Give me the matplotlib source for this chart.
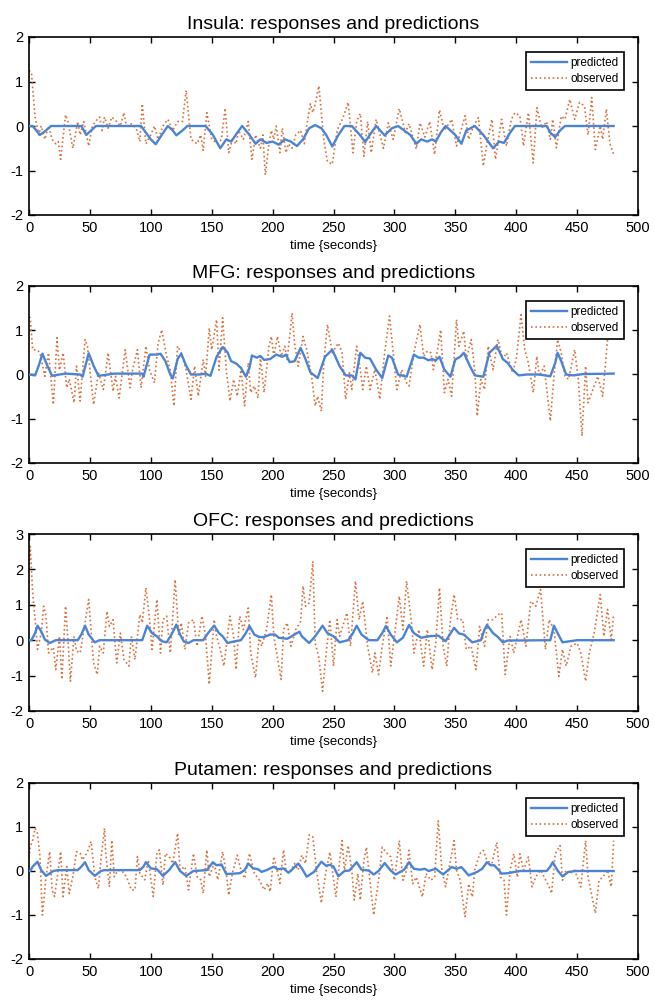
import numpy as np
import matplotlib.pyplot as plt

plt.rcParams['font.family'] = ['Liberation Sans', 'DejaVu Sans']
plt.rcParams['axes.unicode_minus'] = False

# ---- Insula ----
ins_pred_t = [0, 3, 9, 14, 18, 43, 47, 51, 55, 92, 96, 100, 104, 109, 114, 118, 121, 126, 130, 145,
              151, 157, 162, 166, 171, 175, 181, 186, 190, 195, 200, 205, 210, 215, 220, 225, 230,
              235, 240, 244, 249, 254, 259, 265, 272, 276, 281, 285, 292, 298, 303, 308, 313, 318,
              322, 327, 331, 334, 338, 342, 346, 350, 355, 359, 366, 373, 381, 386, 390, 395, 399,
              425, 428, 432, 436, 440, 480]
ins_pred_y = [0, 0, -0.2, -0.1, 0.0, 0.0, -0.2, -0.1, 0.0, 0.0, -0.15, -0.3, -0.41, -0.2, 0.0, -0.1,
              -0.21, -0.1, 0.0, 0.0, -0.2, -0.5, -0.3, -0.35, -0.15, 0.0, -0.2, -0.4, -0.3, -0.38,
              -0.35, -0.42, -0.3, -0.35, -0.45, -0.3, -0.05, 0.02, -0.05, -0.2, -0.46, -0.2, 0.0,
              0.0, -0.21, -0.36, -0.15, 0.0, -0.21, -0.05, 0.0, -0.1, -0.2, -0.4, -0.3, -0.35,
              -0.3, -0.35, -0.15, 0.0, -0.1, -0.2, -0.4, -0.1, 0.0, -0.2, -0.5, -0.35, -0.38,
              -0.15, 0.0, 0.0, -0.15, -0.25, -0.1, 0.0, 0.0]
ins_obs_t = [0, 2, 5, 8, 10, 13, 16, 19, 22, 24, 26, 30, 32, 36, 40, 42, 45, 49, 52, 56, 58, 60, 62,
             65, 68, 72, 75, 78, 80, 84, 88, 91, 93, 96, 100, 103, 106, 110, 114, 118, 122, 126,
             129, 133, 138, 141, 143, 146, 150, 155, 158, 161, 164, 167, 170, 172, 176, 180, 183,
             186, 190, 192, 194, 197, 199, 201, 203, 206, 208, 211, 213, 216, 219, 223, 226, 228,
             231, 233, 235, 238, 242, 245, 249, 253, 258, 262, 266, 269, 272, 275, 278, 281, 285,
             291, 295, 299, 304, 309, 312, 318, 321, 325, 329, 333, 337, 341, 347, 351, 358, 361,
             365, 369, 373, 376, 380, 383, 388, 392, 396, 399, 403, 406, 410, 414, 417, 421, 425,
             428, 430, 433, 437, 440, 444, 448, 452, 456, 459, 462, 465, 469, 471, 474, 477, 480]
ins_obs_y = [1.25, 1.2, 0.2, -0.2, 0.0, -0.3, 0.0, -0.3, -0.4, -0.35, -0.75, 0.25, 0.1, -0.5, 0.1,
             -0.2, 0.1, -0.45, 0.0, 0.15, 0.2, -0.1, 0.2, -0.05, 0.2, 0.1, 0.0, 0.3, 0.0, 0.05,
             -0.05, -0.35, 0.5, -0.4, -0.2, 0.0, -0.3, 0.0, 0.15, -0.1, 0.1, 0.1, 0.8, -0.3, -0.4,
             -0.2, -0.55, 0.3, -0.3, -0.4, -0.3, 0.4, -0.6, -0.3, -0.4, -0.1, -0.3, 0.1, -0.75,
             -0.2, -0.5, -0.2, -1.1, -0.4, -0.1, -0.3, 0.0, -0.6, -0.05, -0.6, -0.4, -0.5, -0.2,
             -0.1, -0.4, 0.0, 0.5, 0.3, 0.5, 0.9, -0.3, -0.8, -0.86, -0.1, 0.2, 0.53, -0.6, 0.1,
             0.28, -0.68, 0.1, -0.6, 0.15, -0.5, 0.07, -0.3, 0.39, -0.15, 0.05, -0.52, 0.07,
             -0.25, 0.1, -0.64, 0.36, -0.1, 0.15, -0.45, 0.23, -0.3, 0.0, 0.19, -0.9, -0.4, 0.15,
             -0.75, 0.15, -0.45, 0.15, 0.3, 0.23, -0.45, 0.3, -0.83, 0.41, -0.05, 0.1, -0.3, 0.15,
             -0.49, 0.22, 0.15, 0.6, 0.15, 0.53, 0.45, -0.2, 0.64, -0.53, 0.0, -0.3, 0.38, -0.4,
             -0.64]

# ---- MFG ----
mfg_pred_t = [0, 5, 8, 11, 15, 19, 25, 30, 42, 44, 49, 53, 57, 65, 70, 93, 94, 99, 105, 108, 112,
              116, 118, 122, 125, 129, 133, 140, 145, 149, 154, 159, 163, 166, 170, 174, 178, 181,
              183, 187, 190, 193, 198, 203, 208, 211, 214, 218, 223, 227, 231, 237, 243, 249, 255,
              260, 265, 268, 272, 276, 280, 285, 290, 295, 298, 303, 310, 316, 320, 324, 328, 331,
              334, 337, 341, 346, 350, 354, 357, 362, 366, 373, 378, 384, 389, 393, 397, 402, 409,
              419, 428, 432, 434, 437, 441, 447, 455, 480]
mfg_pred_y = [0, -0.02, 0.2, 0.47, 0.2, -0.03, 0.0, 0.02, 0.0, -0.05, 0.48, 0.2, -0.03, 0.0, 0.02,
              0.02, -0.05, 0.45, 0.45, 0.47, 0.3, 0.0, -0.09, 0.35, 0.47, 0.2, 0.0, 0.0, 0.02,
              -0.03, 0.4, 0.62, 0.5, 0.3, 0.25, 0.15, -0.05, 0.15, 0.43, 0.38, 0.42, 0.33, 0.35,
              0.45, 0.4, 0.45, 0.28, 0.3, 0.6, 0.35, 0.05, -0.08, 0.4, 0.56, 0.19, -0.02, -0.02,
              -0.11, 0.49, 0.38, 0.36, 0.11, -0.08, 0.43, 0.38, 0.0, -0.05, 0.45, 0.38, 0.38,
              0.32, 0.35, 0.32, 0.4, 0.11, -0.05, 0.34, 0.4, 0.49, 0.19, -0.02, -0.05, 0.49,
              0.65, 0.35, 0.26, 0.11, -0.02, 0.0, 0.0, -0.04, 0.26, 0.49, 0.3, 0.0, -0.02, 0.01,
              0.02]
mfg_obs_t = [0, 1, 3, 7, 9, 13, 16, 20, 23, 25, 28, 31, 33, 37, 39, 42, 44, 46, 48, 53, 57, 61, 65,
             69, 71, 74, 79, 83, 85, 89, 92, 96, 99, 103, 106, 109, 113, 116, 119, 122, 125, 129,
             133, 136, 139, 143, 145, 148, 150, 154, 156, 159, 162, 165, 168, 171, 174, 177, 180,
             182, 185, 188, 190, 193, 197, 199, 201, 204, 207, 210, 212, 216, 218, 221, 225, 228,
             232, 235, 237, 240, 242, 245, 249, 254, 257, 260, 263, 265, 269, 272, 274, 277, 280,
             284, 288, 292, 296, 299, 302, 306, 310, 312, 316, 321, 324, 327, 330, 332, 335, 338,
             341, 344, 347, 351, 353, 357, 359, 363, 366, 368, 371, 374, 377, 381, 385, 389, 392,
             397, 400, 404, 407, 410, 414, 417, 419, 423, 428, 431, 434, 437, 440, 443, 448, 451,
             454, 457, 459, 463, 467, 471, 475, 479]
mfg_obs_y = [1.3, 1.28, 0.56, 0.55, 0.49, -0.04, 0.49, -0.68, 0.83, 0.1, 0.49, -0.3, -0.1, -0.64,
             0.19, -0.6, 0.1, 0.79, 0.64, -0.68, 0.04, -0.34, 0.49, -0.38, -0.04, -0.53, 0.56,
             -0.3, 0.1, 0.56, -0.3, 0.64, 0.1, -0.19, 0.71, 1.01, 0.41, 0.1, -0.71, 0.64, 0.49,
             0.1, -0.56, 0.19, -0.49, 0.34, -0.04, 1.05, 0.56, 1.24, 0.1, 1.28, 0.1, -0.6, -0.11,
             -0.49, 0.1, -0.71, 0.26, -0.41, -0.26, -0.53, 0.41, -0.41, 0.64, 0.86, 0.41, 0.86,
             0.41, 0.64, 0.34, 1.39, 0.71, 0.19, 0.86, 0.56, -0.04, -0.71, -0.49, -0.83, 0.26,
             1.13, 0.49, 0.71, 0.49, -0.56, 0.04, -0.34, 0.64, 0.11, -0.34, 0.19, -0.34, 0.11,
             -0.56, 0.49, 1.32, 0.49, -0.34, 0.11, -0.19, -0.26, 0.49, 1.13, 0.41, 0.53, 0.49,
             0.11, 0.49, 1.01, -0.41, -0.11, -0.49, 1.24, 0.64, 0.98, 0.34, 0.79, 0.11, -0.94,
             -0.11, -0.34, 0.64, 0.11, 0.79, 0.34, 0.49, 0.04, 0.34, 1.35, 0.56, 0.26, -0.41,
             0.41, -0.04, 0.19, -1.05, -0.04, 0.79, 0.49, -0.04, -0.11, 0.56, -0.11, -1.39, 0.19,
             -0.64, -0.34, -0.04, -0.49, 0.79, 0.9]

# ---- OFC ----
ofc_pred_t = [0, 2, 5, 7, 10, 13, 17, 22, 40, 43, 46, 49, 54, 58, 93, 95, 97, 101, 105, 109, 113,
              117, 121, 124, 127, 131, 135, 143, 147, 152, 156, 159, 163, 169, 174, 178, 181, 185,
              189, 193, 198, 202, 205, 212, 218, 222, 224, 230, 235, 241, 245, 250, 255, 262, 266,
              269, 273, 279, 286, 290, 293, 297, 302, 307, 312, 316, 322, 328, 336, 342, 349, 353,
              357, 364, 371, 374, 376, 381, 385, 389, 393, 428, 431, 434, 438, 450, 480]
ofc_pred_y = [0, 0, 0.2, 0.41, 0.25, 0.02, -0.08, 0.0, 0.0, 0.16, 0.41, 0.16, -0.06, 0.0, 0.0, 0.2,
              0.41, 0.2, 0.11, -0.03, -0.06, 0.16, 0.44, 0.16, -0.03, -0.08, 0.0, 0.0, 0.2, 0.41,
              0.2, 0.11, -0.08, -0.03, 0.0, 0.2, 0.4, 0.16, 0.09, 0.09, 0.16, 0.16, 0.07, 0.04,
              0.16, 0.24, 0.11, -0.08, 0.11, 0.41, 0.2, 0.11, -0.06, 0.0, 0.2, 0.41, 0.16, 0.0,
              0.0, 0.2, 0.4, 0.16, -0.06, 0.07, 0.43, 0.2, 0.07, 0.11, 0.13, -0.03, 0.35, 0.19,
              0.16, -0.06, 0.0, 0.3, 0.43, 0.2, 0.09, -0.06, -0.01, 0.0, 0.41, 0.2, -0.06, 0.0, 0.0]
ofc_obs_t = [0, 1, 3, 5, 7, 10, 12, 14, 16, 20, 22, 25, 27, 30, 32, 34, 37, 39, 42, 46, 49, 53, 56,
             58, 61, 64, 66, 69, 72, 75, 78, 82, 84, 87, 91, 93, 96, 99, 101, 105, 108, 110, 113,
             116, 120, 123, 125, 128, 131, 135, 138, 142, 145, 148, 152, 154, 157, 160, 165, 168,
             170, 173, 176, 180, 182, 186, 189, 191, 195, 199, 201, 207, 209, 212, 215, 219, 223,
             225, 227, 230, 233, 235, 238, 241, 244, 247, 250, 253, 255, 261, 264, 268, 271, 274,
             278, 282, 284, 287, 290, 294, 297, 299, 304, 307, 310, 314, 316, 320, 324, 327, 331,
             334, 337, 340, 343, 346, 349, 352, 356, 359, 363, 367, 370, 374, 377, 381, 385, 388,
             391, 395, 398, 401, 404, 408, 412, 416, 420, 424, 427, 431, 435, 438, 441, 445, 450,
             453, 457, 460, 464, 469, 472, 475, 478, 480]
ofc_obs_y = [2.0, 2.65, 1.34, 0.58, -0.26, 0.2, 0.96, 0.68, -0.36, -0.2, -0.83, 0.11, -1.11, 0.96,
             0.02, -1.16, 0.11, -0.31, -0.36, 0.49, 1.15, -0.64, -0.97, -0.17, -0.36, 0.82, 0.39,
             0.58, -0.64, 0.2, -0.55, -0.73, 0.11, -0.55, 0.72, 0.49, 1.48, 0.58, -0.26, 1.15,
             -0.36, 0.58, 0.68, -0.36, 1.71, 0.11, 0.49, -0.26, 0.49, 0.58, -0.17, 0.68, 0.11,
             -1.25, 0.58, 0.11, -0.26, -0.73, 0.68, 0.11, -0.83, 0.68, 0.3, 0.91, -0.36, -1.06,
             0.11, -0.17, 0.3, 1.29, 0.11, -1.11, 0.3, 0.49, -0.17, 0.3, 0.53, 1.53, 0.96, 1.05,
             2.23, -0.08, -0.5, -1.44, -0.36, 0.58, -0.73, 0.58, 0.11, 0.77, -0.17, 1.67, 0.58,
             1.1, -0.17, -0.92, -0.36, -0.97, -0.17, 0.68, -0.73, -0.17, 1.24, 0.3, 1.67, 0.49,
             -0.36, 0.3, -0.73, 0.3, -0.83, -0.08, 1.48, -0.17, -0.73, 0.58, 1.29, 0.58, 0.58,
             -0.26, -0.17, -0.83, 0.39, -0.17, 0.58, 0.58, 0.72, 0.77, -0.97, 0.11, -0.36, 0.11,
             0.58, -0.17, 1.1, 0.96, 1.43, -0.26, 0.58, 0.3, -1.02, -0.26, -0.73, -0.17, -0.08,
             -0.36, -1.16, -0.36, 0.2, 1.29, 0.11, 0.87, 0.02, 0.72]

# ---- Putamen ----
put_pred_t = [0, 1, 3, 7, 10, 14, 20, 24, 40, 43, 46, 49, 54, 59, 62, 91, 94, 96, 100, 105, 110, 115,
              120, 124, 129, 135, 146, 151, 154, 158, 162, 168, 173, 177, 180, 184, 188, 191, 195,
              201, 204, 209, 213, 217, 221, 224, 228, 234, 240, 244, 247, 250, 254, 259, 263, 269,
              273, 279, 283, 287, 292, 297, 301, 308, 312, 316, 321, 325, 328, 334, 340, 347, 351,
              355, 361, 368, 372, 376, 379, 382, 386, 388, 393, 399, 403, 425, 428, 430, 434, 438,
              443, 449, 480]
put_pred_y = [0, 0, 0.1, 0.21, 0.02, -0.11, 0.0, 0.02, 0.02, 0.1, 0.2, 0.02, -0.11, 0.0, 0.02, 0.02,
              0.1, 0.2, 0.06, 0.04, -0.11, 0.02, 0.2, 0.0, -0.11, 0.0, 0.02, 0.2, 0.13, 0.15,
              -0.07, -0.06, -0.05, 0.02, 0.17, 0.06, 0.04, -0.02, 0.02, 0.1, 0.04, 0.06, -0.04,
              0.06, 0.17, 0.06, -0.13, -0.02, 0.21, 0.12, 0.14, 0.1, -0.12, 0.0, 0.01, 0.2, 0.03,
              0.01, -0.08, 0.0, 0.18, 0.01, -0.08, 0.03, 0.2, 0.05, 0.03, 0.05, 0.0, 0.05, -0.08,
              0.09, 0.05, 0.09, -0.1, -0.02, 0.05, 0.2, 0.13, 0.13, 0.01, -0.06, -0.05, -0.02,
              0.0, 0.0, 0.1, 0.2, 0.01, -0.12, -0.02, 0.0, 0.0]
put_obs_t = [0, 1, 3, 5, 7, 9, 11, 14, 17, 19, 21, 24, 26, 28, 31, 33, 36, 39, 42, 44, 48, 51, 54,
             57, 59, 62, 63, 66, 68, 70, 73, 77, 80, 84, 87, 89, 91, 95, 98, 102, 105, 107, 110, 112,
             115, 118, 122, 124, 128, 131, 135, 138, 141, 143, 146, 148, 152, 155, 159, 162, 164,
             167, 171, 174, 177, 181, 185, 189, 193, 196, 198, 201, 203, 206, 209, 211, 214, 218,
             221, 224, 227, 230, 233, 236, 240, 244, 247, 249, 252, 254, 257, 259, 262, 265, 267,
             270, 272, 275, 277, 281, 283, 287, 290, 293, 297, 300, 304, 307, 310, 312, 315, 318,
             323, 326, 330, 333, 336, 339, 342, 344, 349, 351, 354, 358, 361, 364, 366, 370, 373,
             376, 380, 384, 387, 390, 392, 395, 398, 401, 403, 406, 410, 413, 416, 420, 423, 427,
             429, 432, 436, 438, 441, 444, 448, 453, 457, 459, 465, 468, 471, 475, 478, 480]
put_obs_y = [0.3, 0.55, 0.7, 0.97, 0.85, 0.33, -1.0, -0.13, 0.44, -0.43, -0.58, 0.02, 0.44, -0.58,
             0.1, -0.51, -0.13, 0.44, 0.4, 0.25, 0.44, 0.67, -0.13, -0.4, 0.25, 0.97, 0.4, -0.36,
             0.7, -0.13, 0.02, -0.02, -0.13, -0.43, -0.43, 0.33, -0.05, -0.2, 0.25, -0.58, 0.4,
             0.48, -0.32, 0.4, 0.33, 0.17, 0.86, 0.02, 0.1, -0.43, 0.4, -0.13, -0.2, -0.51, 0.48,
             -0.13, 0.17, -0.2, 0.44, -0.05, -0.55, -0.05, 0.36, 0.02, -0.17, 0.4, -0.05, -0.2,
             -0.43, -0.28, -0.47, 0.33, 0.1, -0.28, 0.48, 0.02, -0.05, 0.17, 0.02, 0.36, 0.17,
             0.82, 0.78, 0.02, -0.73, 0.02, 0.43, 0.02, -0.59, -0.02, 0.69, 0.02, 0.58, 0.02,
             -0.66, -0.06, -0.66, 0.24, 0.54, -0.51, -1.0, -0.21, 0.54, 0.43, 0.32, -0.21, 0.69,
             -0.21, 0.02, 0.47, -0.29, -0.14, -0.59, -0.06, -0.21, -0.14, 1.14, 0.02, -0.36,
             -0.06, 0.69, 0.02, -0.21, -1.04, -0.29, -0.59, 0.02, 0.39, 0.47, 0.24, 0.17, 0.65,
             -0.14, -0.21, -1.0, 0.02, 0.39, -0.14, 0.39, 0.02, 0.32, -0.36, -0.14, 0.02, -0.14,
             -0.36, -0.51, 0.39, 0.58, -0.21, 0.02, -0.06, 0.02, -0.36, 0.69, -0.14, -0.96,
             -0.21, -0.14, 0.02, -0.36, 0.69]

panels = [
    ("Insula", ins_pred_t, ins_pred_y, ins_obs_t, ins_obs_y, (-2, 2)),
    ("MFG", mfg_pred_t, mfg_pred_y, mfg_obs_t, mfg_obs_y, (-2, 2)),
    ("OFC", ofc_pred_t, ofc_pred_y, ofc_obs_t, ofc_obs_y, (-2, 3)),
    ("Putamen", put_pred_t, put_pred_y, put_obs_t, put_obs_y, (-2, 2)),
]

# axes boxes in pixels (left, top, right, bottom)
W, H = 655, 1008
boxes = [(29, 37, 638, 215), (29, 286, 638, 463), (29, 534, 638, 711), (29, 783, 638, 959)]

fig = plt.figure(figsize=(W / 100, H / 100), dpi=100)

for (name, pt, py, ot, oy, ylim), (l, t, r, b) in zip(panels, boxes):
    ax = fig.add_axes([l / W, 1 - b / H, (r - l) / W, (b - t) / H])
    ax.plot(pt, py, color='#4a84d4', lw=1.7, label='predicted', zorder=3)
    ax.plot(ot, oy, color='#d9703c', lw=1.2, ls=(0, (1, 1.6)), label='observed', zorder=2)
    ax.set_xlim(0, 500)
    ax.set_ylim(*ylim)
    ax.set_xticks(np.arange(0, 501, 50))
    ax.set_yticks(np.arange(ylim[0], ylim[1] + 1, 1))
    ax.tick_params(direction='in', top=True, right=True, length=4, width=1,
                   labelsize=10.5, pad=4)
    for s in ax.spines.values():
        s.set_linewidth(1.2)
    ax.set_title(name + ": responses and predictions", fontsize=14, pad=6)
    ax.set_xlabel("time {seconds}", fontsize=9.5, labelpad=4)
    leg = ax.legend(loc='upper right', fontsize=8.5, fancybox=False, framealpha=1,
                    edgecolor='black', handlelength=3.0, borderpad=0.45, labelspacing=0.3,
                    handletextpad=0.3, borderaxespad=0, bbox_to_anchor=(0.977, 0.916))
    leg.get_frame().set_linewidth(1.2)

fig.savefig("out.png", dpi=100)
